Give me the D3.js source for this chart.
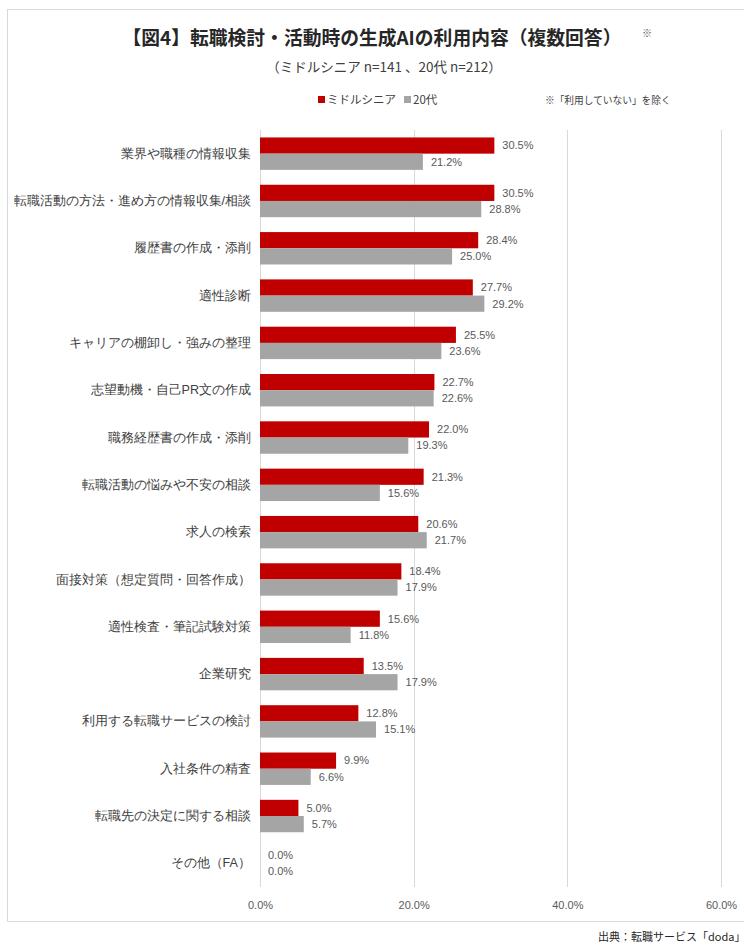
<!DOCTYPE html>
<html>
<head>
<meta charset="utf-8">
<script src="https://cdn.jsdelivr.net/npm/d3@7"></script>
<style>
  body { margin: 0; background: #fff; }
  svg { display: block; font-family: "Noto Sans CJK JP", "Noto Sans", sans-serif; }
</style>
</head>
<body>
<svg id="chart" width="744" height="945"></svg>
<script>
// chart data
var categories = ['業界や職種の情報収集', '転職活動の方法・進め方の情報収集/相談', '履歴書の作成・添削', '適性診断',
  'キャリアの棚卸し・強みの整理', '志望動機・自己PR文の作成', '職務経歴書の作成・添削', '転職活動の悩みや不安の相談',
  '求人の検索', '面接対策（想定質問・回答作成）', '適性検査・筆記試験対策', '企業研究',
  '利用する転職サービスの検討', '入社条件の精査', '転職先の決定に関する相談', 'その他（FA）'];
var seriesNames = ['ミドルシニア', '20代'];
var middle = [30.5, 30.5, 28.4, 27.7, 25.5, 22.7, 22.0, 21.3, 20.6, 18.4, 15.6, 13.5, 12.8, 9.9, 5.0, 0.0];
var twenties = [21.2, 28.8, 25.0, 29.2, 23.6, 22.6, 19.3, 15.6, 21.7, 17.9, 11.8, 17.9, 15.1, 6.6, 5.7, 0.0];
var tickValues = [0, 20, 40, 60];

var colors = ['#c00000', '#a5a5a5'];
var svg = d3.select('#chart');

// outer frame
svg.append('rect')
  .attr('x', 7.5).attr('y', 9.5).attr('width', 760).attr('height', 912)
  .attr('fill', 'none').attr('stroke', '#d9d9d9');

var x = d3.scaleLinear().domain([0, 60]).range([260, 721]);
var y = d3.scaleBand().domain(categories).range([130, 887]).paddingInner(0.315).paddingOuter(0.1575);
var inner = d3.scaleBand().domain([0, 1]).range([0, y.bandwidth()]);

// gridlines
svg.append('g').selectAll('line')
  .data(tickValues)
  .enter().append('line')
  .attr('x1', function(d) { return Math.round(x(d)) + 0.5; })
  .attr('x2', function(d) { return Math.round(x(d)) + 0.5; })
  .attr('y1', 130).attr('y2', 887)
  .attr('stroke', '#d9d9d9');

// x axis labels
var xAxis = svg.append('g')
  .attr('transform', 'translate(0,898)')
  .call(d3.axisBottom(x).tickValues(tickValues).tickSize(0).tickFormat(function(d) { return d.toFixed(1) + '%'; }));
xAxis.select('.domain').remove();
xAxis.selectAll('text')
  .attr('fill', '#595959')
  .style('font-family', '"Liberation Sans", Arial, sans-serif')
  .style('font-size', '11px');

// y axis labels
var yAxis = svg.append('g')
  .attr('transform', 'translate(251,0)')
  .call(d3.axisLeft(y).tickSize(0).tickPadding(0));
yAxis.select('.domain').remove();
yAxis.selectAll('text')
  .attr('fill', '#404040')
  .style('font-size', '12.6px');

// bars
var series = [middle, twenties];
series.forEach(function(vals, si) {
  var g = svg.append('g');
  g.selectAll('rect')
    .data(vals)
    .enter().append('rect')
    .attr('x', x(0))
    .attr('y', function(d, i) { return y(categories[i]) + inner(si); })
    .attr('width', function(d) { return x(d) - x(0); })
    .attr('height', inner.bandwidth())
    .attr('fill', colors[si]);
  g.selectAll('text')
    .data(vals)
    .enter().append('text')
    .attr('x', function(d) { return x(d) + 8; })
    .attr('y', function(d, i) { return y(categories[i]) + inner(si) + inner.bandwidth() / 2; })
    .attr('dy', '0.35em')
    .attr('fill', '#595959')
    .style('font-family', '"Liberation Sans", Arial, sans-serif')
    .style('font-size', '11px')
    .text(function(d) { return d.toFixed(1) + '%'; });
});

// title
svg.append('text')
  .attr('x', 372).attr('y', 45)
  .attr('text-anchor', 'middle')
  .attr('fill', '#262626')
  .style('font-size', '18.8px').style('font-weight', 'bold')
  .text('【図4】転職検討・活動時の生成AIの利用内容（複数回答）');
svg.append('text')
  .attr('x', 642).attr('y', 37)
  .attr('fill', '#595959')
  .style('font-size', '10px')
  .text('※');
svg.append('text')
  .attr('x', 384).attr('y', 72)
  .attr('text-anchor', 'middle')
  .attr('fill', '#404040')
  .style('font-size', '13.5px')
  .text('（ミドルシニア n=141 、20代 n=212）');

// legend
var legendX = [318, 404];
seriesNames.forEach(function(name, i) {
  svg.append('rect')
    .attr('x', legendX[i]).attr('y', 96).attr('width', 7).attr('height', 7)
    .attr('fill', colors[i]);
  svg.append('text')
    .attr('x', legendX[i] + 9).attr('y', 104)
    .attr('fill', '#404040')
    .style('font-size', '11.5px')
    .text(name);
});
svg.append('text')
  .attr('x', 545).attr('y', 104)
  .attr('fill', '#404040')
  .style('font-size', '9.7px')
  .text('※「利用していない」を除く');

// source
svg.append('text')
  .attr('x', 598).attr('y', 941)
  .attr('fill', '#262626')
  .style('font-size', '11px')
  .text('出典：転職サービス「doda」');
</script>
</body>
</html>
